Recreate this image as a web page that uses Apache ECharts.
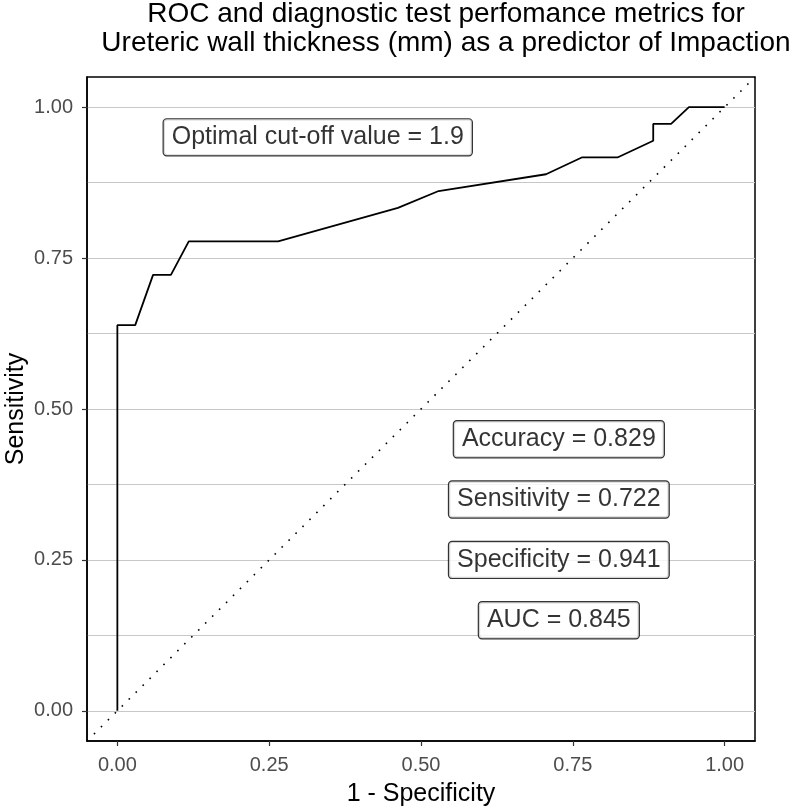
<!DOCTYPE html>
<html>
<head>
<meta charset="utf-8">
<script src="https://cdn.jsdelivr.net/npm/echarts@6/dist/echarts.min.js"></script>
<style>
    html, body { margin: 0; padding: 0; background: #fff; }
    #roc-chart { width: 800px; height: 809px; }
</style>
</head>
<body>
<div id="roc-chart"></div>
<script>
// ROC curve points (1 - specificity, sensitivity)
const rocFpr = [0, 0, 0.0294, 0.0588, 0.0882, 0.1176, 0.2647, 0.462, 0.529, 0.7059, 0.7647, 0.8235, 0.8824, 0.8824, 0.9118, 0.9412, 1.0];
const rocTpr = [0, 0.6389, 0.6389, 0.7222, 0.7222, 0.7778, 0.7778, 0.8333, 0.8611, 0.8889, 0.9167, 0.9167, 0.9444, 0.9722, 0.9722, 1.0, 1.0];

// reference diagonal spans the whole panel
const refLine = [-0.05, 1.05];

// text boxes
const labelText = ["Optimal cut-off value = 1.9", "Accuracy = 0.829", "Sensitivity = 0.722", "Specificity = 0.941", "AUC = 0.845"];
const labelX = [0.33, 0.727, 0.727, 0.727, 0.727];
const labelY = [0.95, 0.45, 0.35, 0.25, 0.15];

// axis ticks
const majorTicks = [0, 0.25, 0.5, 0.75, 1];
const gridTicks = [0, 0.125, 0.25, 0.375, 0.5, 0.625, 0.75, 0.875, 1];

const chartTitle = "ROC and diagnostic test perfomance metrics for\nUreteric wall thickness (mm) as a predictor of Impaction";

const font = "'Liberation Sans', Arial, sans-serif";

function loadRocChart() {
    var roc_div = document.getElementById("roc-chart");
    var myChart_roc = echarts.init(roc_div);

    var tickFormat = function (v) { return v.toFixed(2); };

    var option_roc = {
        animation: false,
        backgroundColor: "#fff",
        // title is centred a bit right of the page centre, so place it by hand
        graphic: [
            {
                type: "text",
                x: 446,
                y: 0,
                silent: true,
                style: {
                    text: chartTitle,
                    textAlign: "center",
                    textVerticalAlign: "top",
                    fontFamily: font,
                    fontSize: 28,
                    lineHeight: 29,
                    fill: "#000"
                }
            }
        ],
        grid: {
            left: 87,
            right: 45,
            top: 77,
            bottom: 68,
            outerBoundsMode: "none",
            containLabel: false,
            show: true,
            borderColor: "#000",
            borderWidth: 1.5,
            backgroundColor: "#fff"
        },
        xAxis: {
            type: "value",
            min: -0.05,
            max: 1.05,
            name: "1 - Specificity",
            nameLocation: "middle",
            nameGap: 41,
            nameMoveOverlap: false,
            nameTextStyle: { fontFamily: font, fontSize: 25, color: "#000" },
            axisLine: { onZero: false, lineStyle: { color: "#000", width: 1.5 } },
            axisTick: { customValues: majorTicks, length: 5, lineStyle: { color: "#333", width: 1.2 } },
            axisLabel: {
                customValues: majorTicks,
                formatter: tickFormat,
                margin: 14,
                fontFamily: font,
                fontSize: 20,
                color: "#4d4d4d"
            },
            splitLine: { show: false }
        },
        yAxis: [
            {
                type: "value",
                min: -0.05,
                max: 1.05,
                name: "Sensitivity",
                nameLocation: "middle",
                nameGap: 58,
                nameMoveOverlap: false,
                nameTextStyle: { fontFamily: font, fontSize: 25, color: "#000" },
                axisLine: { onZero: false, lineStyle: { color: "#000", width: 1.5 } },
                axisTick: { customValues: majorTicks, length: 5, lineStyle: { color: "#333", width: 1.2 } },
                axisLabel: {
                    customValues: majorTicks,
                    formatter: tickFormat,
                    margin: 14,
                    fontFamily: font,
                    fontSize: 20,
                    color: "#4d4d4d"
                },
                splitLine: { show: false }
            },
            {
                // horizontal grid lines only
                type: "value",
                min: -0.05,
                max: 1.05,
                position: "left",
                axisLine: { show: false },
                axisTick: { show: false, customValues: gridTicks },
                axisLabel: { show: false },
                splitLine: { show: true, lineStyle: { color: "#c8c8c8", width: 1.2 } }
            }
        ],
        series: [
            {
                type: "line",
                data: refLine.map(function (v) { return [v, v]; }),
                showSymbol: false,
                silent: true,
                lineStyle: { color: "#000", width: 1.6, type: [1.6, 8.2] },
                z: 2
            },
            {
                type: "line",
                data: rocFpr.map(function (v, i) { return [v, rocTpr[i]]; }),
                showSymbol: false,
                smooth: false,
                lineStyle: { color: "#000", width: 1.8 },
                z: 3
            },
            {
                type: "scatter",
                data: labelX.map(function (v, i) { return { value: [v, labelY[i]], name: labelText[i] }; }),
                symbolSize: 1,
                itemStyle: { color: "rgba(0,0,0,0)" },
                z: 4,
                label: {
                    show: true,
                    position: "inside",
                    formatter: function (p) { return p.name; },
                    fontFamily: font,
                    fontSize: 25,
                    color: "#000",
                    lineHeight: 26,
                    backgroundColor: "#fff",
                    borderColor: "#000",
                    borderWidth: 1.2,
                    borderRadius: 3,
                    padding: [5, 8]
                }
            }
        ]
    };

    myChart_roc.setOption(option_roc);
}

window.onload = function () {
    loadRocChart();
};
</script>
</body>
</html>
